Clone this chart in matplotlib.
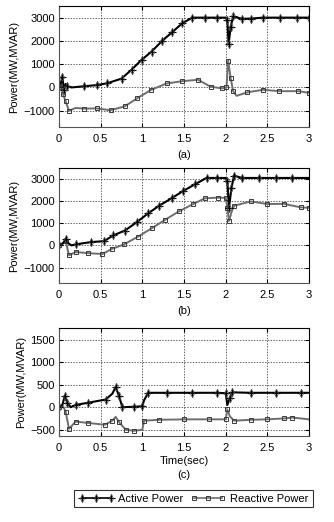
import matplotlib.pyplot as plt
from matplotlib.legend_handler import HandlerTuple
from matplotlib.lines import Line2D

plt.rcParams['font.family'] = ['Liberation Sans', 'DejaVu Sans']
plt.rcParams['font.size'] = 8

# ---- panel (a) ----
ta_p = [0, 0.02, 0.04, 0.06, 0.08, 0.1, 0.15, 0.3, 0.45, 0.58, 0.75, 0.87, 0.99, 1.11, 1.24,
        1.36, 1.48, 1.6, 1.75, 1.9, 2.0, 2.02, 2.035, 2.06, 2.09, 2.2, 2.3, 2.45, 2.65, 2.85, 3.0]
pa = [0, 150, 450, -100, 150, 50, 0, 50, 100, 180, 380, 760, 1180, 1540, 2010,
      2380, 2760, 3000, 3000, 3000, 3000, 2900, 1850, 2600, 3050, 2950, 2960, 3000, 3000, 3000, 3000]
ta_q = [0, 0.03, 0.05, 0.08, 0.12, 0.2, 0.3, 0.45, 0.62, 0.79, 0.94, 1.1, 1.29, 1.48, 1.67,
        1.82, 1.96, 2.01, 2.03, 2.06, 2.09, 2.13, 2.26, 2.45, 2.64, 2.87, 3.0]
qa = [0, 100, -300, -600, -1000, -880, -910, -900, -980, -810, -460, -115, 170, 270, 330,
      30, -40, 0, 1150, 400, -160, -360, -210, -100, -160, -160, -230]

# ---- panel (b) ----
tb_p = [0, 0.05, 0.08, 0.11, 0.15, 0.2, 0.38, 0.54, 0.65, 0.79, 0.93, 1.07, 1.2, 1.35,
        1.49, 1.63, 1.77, 1.9, 2.0, 2.02, 2.04, 2.07, 2.1, 2.2, 2.4, 2.6, 2.8, 3.0]
pb = [0, 100, 300, 100, 0, 45, 150, 190, 450, 670, 1040, 1450, 1790, 2130,
      2460, 2760, 3050, 3050, 3050, 2900, 1700, 2600, 3150, 3050, 3050, 3050, 3050, 3050]
tb_q = [0, 0.05, 0.08, 0.12, 0.2, 0.35, 0.52, 0.64, 0.78, 0.95, 1.12, 1.27, 1.44, 1.61,
        1.75, 1.91, 2.0, 2.02, 2.04, 2.07, 2.1, 2.3, 2.5, 2.7, 2.9, 3.0]
qb = [0, 100, 200, -450, -300, -350, -390, -150, 45, 400, 790, 1150, 1540, 1870,
      2130, 2160, 2150, 1700, 1100, 1500, 1790, 1990, 1870, 1880, 1720, 1700]

# ---- panel (c) ----
tc_p = [0, 0.04, 0.07, 0.1, 0.14, 0.2, 0.35, 0.56, 0.64, 0.68, 0.72, 0.76, 0.9, 1.0,
        1.02, 1.07, 1.3, 1.6, 1.9, 2.0, 2.02, 2.05, 2.08, 2.3, 2.6, 2.9, 3.0]
pc = [0, 50, 250, 100, 0, 50, 100, 170, 300, 450, 250, 0, 10, 20,
      150, 320, 320, 320, 320, 310, 50, 200, 330, 320, 320, 320, 320]
tc_q = [0, 0.05, 0.08, 0.12, 0.2, 0.35, 0.55, 0.64, 0.68, 0.72, 0.8, 0.9, 1.0, 1.02,
        1.2, 1.5, 1.8, 2.0, 2.02, 2.05, 2.1, 2.3, 2.5, 2.7, 2.8, 3.0]
qc = [0, 20, -100, -480, -320, -350, -390, -300, -215, -330, -500, -525, -500, -300,
      -280, -270, -270, -270, -50, -200, -300, -280, -270, -250, -230, -270]

panels = [
    (ta_p, pa, ta_q, qa, (-1700, 3500), [-1000, 0, 1000, 2000, 3000], '(a)'),
    (tb_p, pb, tb_q, qb, (-1700, 3500), [-1000, 0, 1000, 2000, 3000], '(b)'),
    (tc_p, pc, tc_q, qc, (-640, 1760), [-500, 0, 500, 1000, 1500], '(c)'),
]

W, H = 334, 522
fig = plt.figure(figsize=(W / 100, H / 100), dpi=100)
boxes = [(6, 127), (168, 283), (328, 436)]
L, R = 59, 309

for (tp, p, tq, q, ylim, yt, lab), (top, bot) in zip(panels, boxes):
    ax = fig.add_axes([L / W, 1 - bot / H, (R - L) / W, (bot - top) / H])
    ax.plot(tq, q, color='#6e6e6e', lw=1.4, marker='s', ms=3.5, mfc='none',
            mec='#3a3a3a', mew=0.7, markevery=0.04)
    ax.plot(tp, p, color='black', lw=1.5, marker='+', ms=5.5, mew=0.8, markevery=0.04)
    ax.plot(tp, p, color='none', marker='d', ms=4.2, mfc='none', mec='#444444',
            mew=0.6, markevery=0.04)
    ax.set_xlim(0, 3)
    ax.set_ylim(*ylim)
    ax.set_xticks([0, 0.5, 1, 1.5, 2, 2.5, 3])
    ax.set_xticklabels(['0', '0.5', '1', '1.5', '2', '2.5', '3'])
    ax.set_yticks(yt)
    ax.grid(True, color='#222222', ls=(0, (2, 2)), lw=0.5)
    ax.tick_params(axis='y', direction='in', length=3, right=True, pad=3)
    ax.tick_params(axis='x', direction='in', length=3, top=True, pad=5)
    for s in ax.spines.values():
        s.set_color('#555555')
        s.set_linewidth(0.8)
    ax.spines['right'].set_color('black')
    ax.spines['top'].set_color('black')
    ax.set_ylabel('Power(MW,MVAR)', labelpad=3)
    if lab == '(c)':
        ax.set_xlabel('Time(sec)\n(c)', labelpad=2, linespacing=1.5)
    else:
        ax.set_xlabel(lab, labelpad=4)

h1 = (Line2D([], [], color='black', lw=1.2, marker='+', ms=5.5, mew=0.8),
      Line2D([], [], color='none', marker='d', ms=4.2, mfc='none', mec='#444444', mew=0.6))
h2 = Line2D([], [], color='#6e6e6e', lw=1.2, marker='s', ms=3.2, mfc='none', mec='#3a3a3a', mew=0.7)
leg = fig.legend([h1, h2], ['Active Power', 'Reactive Power'],
                 handler_map={tuple: HandlerTuple(ndivide=1, pad=0)},
                 loc='center', bbox_to_anchor=(193.5 / W, 1 - 498.5 / H), ncol=2,
                 numpoints=3, handlelength=3.2, handletextpad=0.4, columnspacing=0.6,
                 frameon=True, fancybox=False, edgecolor='black', borderpad=0.35,
                 fontsize=8)
leg.get_frame().set_linewidth(0.8)

fig.savefig('out.png', dpi=100)
